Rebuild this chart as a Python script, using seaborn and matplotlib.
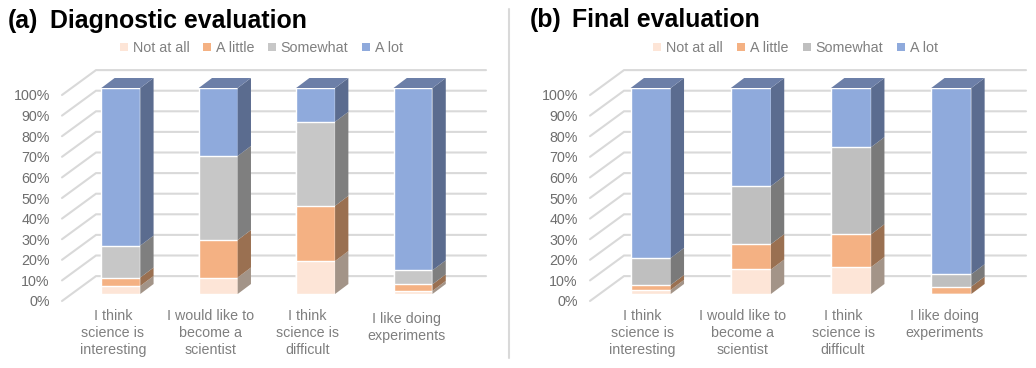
import matplotlib
matplotlib.use('Agg')
import numpy as np
import pandas as pd
import matplotlib.pyplot as plt
import seaborn as sns
from matplotlib.lines import Line2D
from matplotlib.patches import Polygon
from matplotlib.transforms import ScaledTranslation

# Values (percent of answers)
levels = ['Not at all', 'A little', 'Somewhat', 'A lot']
ticks = [0, 10, 20, 30, 40, 50, 60, 70, 80, 90, 100]

cats_a = ['I think\nscience is\ninteresting', 'I would like to\nbecome a\nscientist',
          'I think\nscience is\ndifficult', 'I like doing\nexperiments']
cats_b = list(cats_a)

none_a = [3.9, 8.0, 16.0, 1.5]
little_a = [4.1, 18.2, 26.8, 3.2]
somewhat_a = [15.5, 40.8, 40.8, 6.8]
lot_a = [76.5, 33.0, 16.4, 88.5]

none_b = [2.0, 11.9, 13.1, 0.0]
little_b = [2.4, 12.3, 15.9, 3.6]
somewhat_b = [13.1, 28.2, 42.3, 6.0]
lot_b = [82.5, 47.6, 28.7, 90.4]

W, H = 1036, 368

sns.set_style('white')
plt.rcParams['font.family'] = ['Liberation Sans', 'DejaVu Sans']
plt.rcParams['font.size'] = 10.3

fig = plt.figure(figsize=(W / 100, H / 100), dpi=100)


def px(dx, dy):
    return ScaledTranslation(dx / 100, dy / 100, fig.dpi_scale_trans)


def draw_panel(cats, series, colors, sides, box, first, step, legend_x, col_gap, last_drop):
    left, right = box
    ax = fig.add_axes([left / W, 1 - 294 / H, (right - left) / W, 206 / H])
    unit = 206 / 100
    dx = 13.3 / step
    dy = 10 / unit
    width = 0.4
    tops = np.cumsum(np.array(series), axis=0)

    # back wall and left floor lines
    x0 = (left - first) / step
    x1 = (left + 34 - first) / step
    x2 = (right - first) / step
    for t in ticks:
        y = t + 17.9 / unit
        ax.plot([x0, x1, x2], [t - 7 / unit, y, y], color='#D9D9D9', lw=1.5,
                clip_on=False, zorder=0.5, solid_joinstyle='miter')

    # stacked front faces, tallest first so the lower ones sit on top
    for k in range(3, -1, -1):
        df = pd.DataFrame({'cat': cats, 'top': tops[k]})
        sns.barplot(data=df, x='cat', y='top', color=colors[k], saturation=1, width=width,
                    ax=ax, errorbar=None, zorder=2)

    # right side and top faces
    for i in range(len(cats)):
        xr = i + width / 2
        low = 0
        for k in range(4):
            high = tops[k][i]
            if high > low:
                ax.add_patch(Polygon([(xr, low), (xr + dx, low + dy), (xr + dx, high + dy), (xr, high)],
                                     facecolor=sides[k], edgecolor='none', clip_on=False, zorder=2))
            low = high
        ax.add_patch(Polygon([(xr - width, 100), (xr, 100), (xr + dx, 100 + dy), (xr - width + dx, 100 + dy)],
                             facecolor='#6C7FA8', edgecolor='none', clip_on=False, zorder=2))

    ax.set_xlim(x0, x2)
    ax.set_ylim(0, 100)
    ax.set_xlabel('')
    ax.set_ylabel('')
    ax.set_yticks(ticks)
    ax.set_yticklabels([f'{t}%' for t in ticks], color='#6E6E6E')
    ax.set_xticks(range(len(cats)))
    ax.set_xticklabels(cats, color='#7F7F7F', linespacing=1.24)
    ax.tick_params(axis='y', length=0, pad=8.8)
    ax.tick_params(axis='x', length=0, pad=11)
    sns.despine(ax=ax, left=True, bottom=True)
    ax.grid(False)
    for lab in ax.get_yticklabels():
        lab.set_transform(lab.get_transform() + px(0, -7))
    xlabs = ax.get_xticklabels()
    for lab in xlabs[:-1]:
        lab.set_transform(lab.get_transform() + px(-8, 0))
    xlabs[-1].set_transform(xlabs[-1].get_transform() + px(-7, -last_drop))

    handles = [Line2D([], [], ls='none', marker='s', ms=6.4, mew=0, color=c) for c in colors]
    ax.legend(handles, levels, ncol=4, frameon=False, loc='center left',
              bbox_to_anchor=(legend_x / W, 1 - 48 / H), bbox_transform=fig.transFigure,
              borderaxespad=0, borderpad=0, handlelength=0.7, handletextpad=0.25,
              columnspacing=col_gap, labelcolor='#808080', fontsize=10.3)
    return ax


ax_a = draw_panel(cats_a, [none_a, little_a, somewhat_a, lot_a],
                  ['#FDE5D7', '#F4B183', '#C7C7C7', '#8FAADC'],
                  ['#A39488', '#9A7051', '#7F7F7F', '#5B6C8F'],
                  (62, 486), 120.8, 97.4, 119, 0.9, 3)
ax_b = draw_panel(cats_b, [none_b, little_b, somewhat_b, lot_b],
                  ['#FDE5D7', '#F4B183', '#BFBFBF', '#8FAADC'],
                  ['#A39488', '#9A7051', '#7A7A7A', '#5B6C8F'],
                  (590, 1026), 650.7, 100.2, 652, 0.95, 0)

# panel titles
fig.text(8 / W, 1 - 21 / H, '(a)', fontsize=17.9, fontweight='bold', va='center', color='black')
fig.text(50 / W, 1 - 21 / H, 'Diagnostic evaluation', fontsize=17.9, fontweight='bold', va='center', color='black')
fig.text(530 / W, 1 - 20 / H, '(b)', fontsize=17.9, fontweight='bold', va='center', color='black')
fig.text(572 / W, 1 - 20 / H, 'Final evaluation', fontsize=17.9, fontweight='bold', va='center', color='black')

# divider between the panels
fig.add_artist(Line2D([509 / W, 509 / W], [1 - 9 / H, 1 - 358 / H], color='#D9D9D9', lw=1.5))

fig.savefig('out.png', dpi=100)
